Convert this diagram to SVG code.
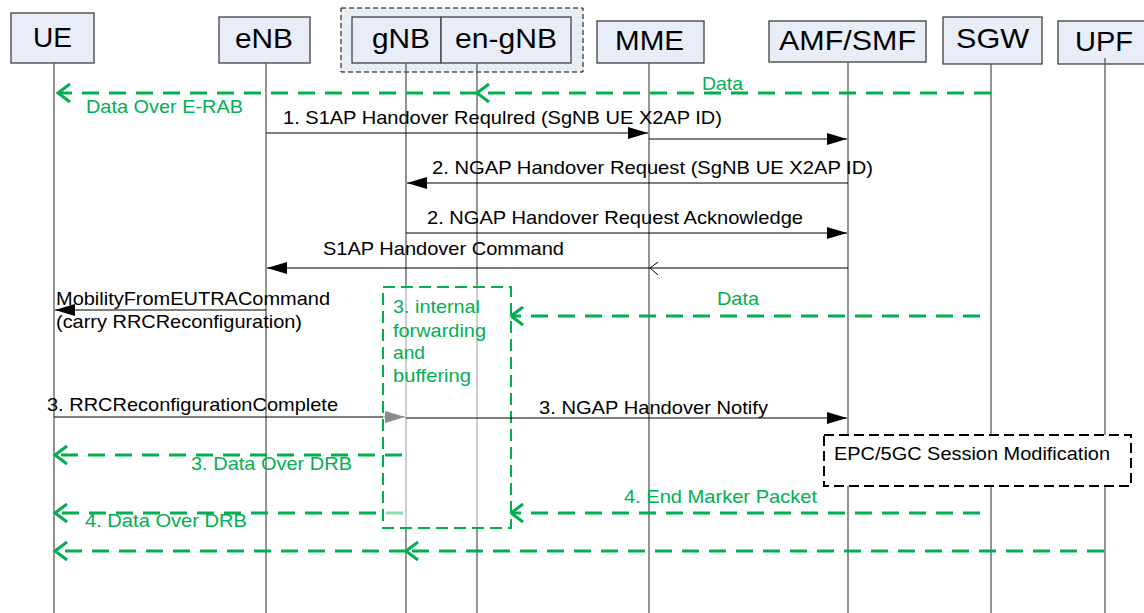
<svg xmlns="http://www.w3.org/2000/svg" width="1144" height="613" viewBox="0 0 1144 613">
<style>
text{font-family:"Liberation Sans",Arial,sans-serif}
.box{fill:#e8edf7;stroke:#404040;stroke-width:1.3}
.lbl{font-size:28px;fill:#000}
.t{font-size:18.5px;fill:#000}
.gt{font-size:18.5px;fill:#00b050}
.life{stroke:#5a5a5a;stroke-width:1.3;fill:none}
.msg{stroke:#000;stroke-width:1.2;fill:none}
.gd{stroke:#00b050;stroke-width:3;stroke-dasharray:17 10;fill:none}
</style>
<defs>
<marker id="fa" markerUnits="userSpaceOnUse" markerWidth="22" markerHeight="14" refX="20" refY="6" orient="auto" overflow="visible">
<path d="M0,0 L20,6 L0,12 z" fill="#000"/>
</marker>
<marker id="ga" markerUnits="userSpaceOnUse" markerWidth="16" markerHeight="22" refX="12" refY="9" orient="auto" overflow="visible">
<path d="M0,0 L12,9 L0,18" fill="none" stroke="#00b050" stroke-width="3"/>
</marker>
</defs>

<g id="group-gnb">
<rect x="341" y="8" width="242" height="64" fill="#e9edf4" stroke="#000" stroke-width="1" stroke-dasharray="5 3"/>
</g>
<g id="node-ue"><rect class="box" x="11" y="13" width="83" height="50"/><text class="lbl" x="33" y="47" textLength="39" lengthAdjust="spacingAndGlyphs">UE</text></g>
<g id="node-enb"><rect class="box" x="219" y="17" width="91" height="46"/><text class="lbl" x="235" y="48" textLength="58" lengthAdjust="spacingAndGlyphs">eNB</text></g>
<g id="node-gnb"><rect class="box" x="352" y="17" width="89" height="46"/><text class="lbl" x="372" y="48" textLength="58" lengthAdjust="spacingAndGlyphs">gNB</text></g>
<g id="node-engnb"><rect class="box" x="441" y="17" width="130" height="46"/><text class="lbl" x="455" y="48" textLength="102" lengthAdjust="spacingAndGlyphs">en-gNB</text></g>
<g id="node-mme"><rect class="box" x="597" y="21" width="107" height="42"/><text class="lbl" x="615" y="50" textLength="69" lengthAdjust="spacingAndGlyphs">MME</text></g>
<g id="node-amf"><rect class="box" x="769" y="21" width="157" height="41"/><text class="lbl" x="779" y="50" textLength="137" lengthAdjust="spacingAndGlyphs">AMF/SMF</text></g>
<g id="node-sgw"><rect class="box" x="943" y="17" width="99" height="47"/><text class="lbl" x="956" y="48" textLength="73" lengthAdjust="spacingAndGlyphs">SGW</text></g>
<g id="node-upf"><rect class="box" x="1058" y="21" width="95" height="43"/><text class="lbl" x="1075" y="51" textLength="58" lengthAdjust="spacingAndGlyphs">UPF</text></g>

<g id="lifelines">
<line class="life" x1="54" y1="63" x2="54" y2="613"/>
<line class="life" x1="266" y1="63" x2="266" y2="613" stroke="#333"/>
<line class="life" x1="406" y1="63" x2="406" y2="613"/>
<line class="life" x1="477" y1="63" x2="477" y2="613"/>
<line class="life" x1="649" y1="63" x2="649" y2="613"/>
<line class="life" x1="848" y1="62" x2="848" y2="613"/>
<line class="life" x1="991" y1="64" x2="991" y2="613"/>
<line class="life" x1="1105" y1="58" x2="1105" y2="613"/>
</g>

<g id="connectors">
<line class="gd" x1="991" y1="93" x2="477" y2="93" marker-end="url(#ga)"/>
<line class="gd" x1="477" y1="93" x2="58" y2="93" marker-end="url(#ga)"/>
<line class="msg" x1="266" y1="133" x2="648" y2="133" marker-end="url(#fa)"/>
<line class="msg" x1="649" y1="139" x2="847" y2="139" marker-end="url(#fa)"/>
<line class="msg" x1="848" y1="183" x2="407" y2="183" marker-end="url(#fa)"/>
<line class="msg" x1="406" y1="233" x2="847" y2="233" marker-end="url(#fa)"/>
<line class="msg" x1="848" y1="268" x2="267" y2="268" marker-end="url(#fa)"/>
<path d="M658,262 L650,268 L658,275" fill="none" stroke="#000" stroke-width="1"/>
<line class="msg" x1="266" y1="310" x2="55" y2="310" marker-end="url(#fa)"/>
<line class="gd" x1="980" y1="316" x2="511" y2="316" marker-end="url(#ga)"/>
<line class="msg" x1="54" y1="417" x2="405" y2="417" marker-end="url(#fa)"/>
<line class="gd" x1="980" y1="513" x2="511" y2="513" marker-end="url(#ga)"/>
<line class="gd" x1="403" y1="513" x2="55" y2="513" marker-end="url(#ga)"/>
<line class="gd" x1="1104" y1="551" x2="406" y2="551" marker-end="url(#ga)"/>
<line class="gd" x1="406" y1="551" x2="55" y2="551" marker-end="url(#ga)"/>
</g>

<g id="buffering-box">
<rect x="383" y="287" width="128" height="241" fill="#fff" fill-opacity="0.55" stroke="#00b050" stroke-width="2" stroke-dasharray="12 6"/>
<text class="gt" x="393" y="313" textLength="87" lengthAdjust="spacingAndGlyphs">3. internal</text>
<text class="gt" x="393" y="337" textLength="93" lengthAdjust="spacingAndGlyphs">forwarding</text>
<text class="gt" x="393" y="359" textLength="32" lengthAdjust="spacingAndGlyphs">and</text>
<text class="gt" x="393" y="382" textLength="78" lengthAdjust="spacingAndGlyphs">buffering</text>
</g>
<g id="connectors-2">
<line class="msg" x1="406" y1="418" x2="847" y2="418" marker-end="url(#fa)" stroke="#222"/>
<line class="gd" x1="402" y1="455" x2="55" y2="455" marker-end="url(#ga)"/>
</g>

<g id="epc-box">
<rect x="824" y="435" width="307" height="51" fill="#fff" stroke="#000" stroke-width="2" stroke-dasharray="10 5"/>
<text class="t" x="834" y="460" textLength="276" lengthAdjust="spacingAndGlyphs">EPC/5GC Session Modification</text>
</g>

<g id="labels">
<text class="gt" x="702" y="90" textLength="41" lengthAdjust="spacingAndGlyphs">Data</text>
<text class="gt" x="86" y="113" textLength="157" lengthAdjust="spacingAndGlyphs">Data Over E-RAB</text>
<text class="t" x="283" y="124" textLength="439" lengthAdjust="spacingAndGlyphs">1. S1AP Handover Requlred (SgNB UE X2AP ID)</text>
<text class="t" x="432" y="174" textLength="441" lengthAdjust="spacingAndGlyphs">2. NGAP Handover Request (SgNB UE X2AP ID)</text>
<text class="t" x="427" y="224" textLength="376" lengthAdjust="spacingAndGlyphs">2. NGAP Handover Request Acknowledge</text>
<text class="t" x="323" y="255" textLength="241" lengthAdjust="spacingAndGlyphs">S1AP Handover Command</text>
<text class="t" x="56" y="305" textLength="274" lengthAdjust="spacingAndGlyphs">MobilityFromEUTRACommand</text>
<text class="t" x="56" y="328" textLength="246" lengthAdjust="spacingAndGlyphs">(carry RRCReconfiguration)</text>
<text class="gt" x="717" y="305" textLength="42" lengthAdjust="spacingAndGlyphs">Data</text>
<text class="t" x="47" y="411" textLength="291" lengthAdjust="spacingAndGlyphs">3. RRCReconfigurationComplete</text>
<text class="t" x="539" y="414" textLength="229" lengthAdjust="spacingAndGlyphs">3. NGAP Handover Notify</text>
<text class="gt" x="191" y="470" textLength="161" lengthAdjust="spacingAndGlyphs">3. Data Over DRB</text>
<text class="gt" x="624" y="503" textLength="193" lengthAdjust="spacingAndGlyphs">4. End Marker Packet</text>
<text class="gt" x="85" y="527" textLength="162" lengthAdjust="spacingAndGlyphs">4. Data Over DRB</text>
</g>
</svg>
